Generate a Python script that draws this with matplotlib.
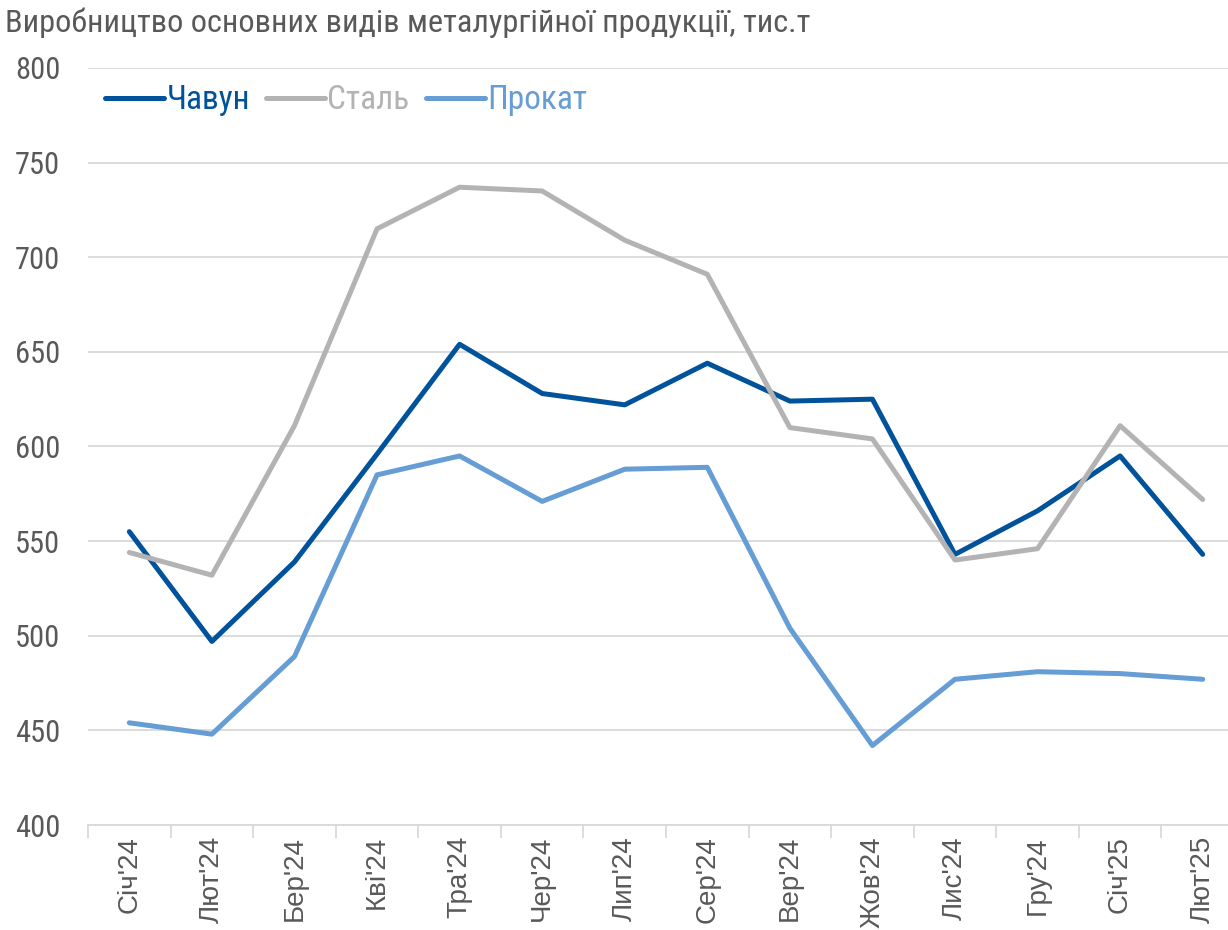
import matplotlib.pyplot as plt
import numpy as np

# Production of main metallurgical products, thousand tonnes
months = ["Січ'24", "Лют'24", "Бер'24", "Кві'24", "Тра'24", "Чер'24", "Лип'24",
          "Сер'24", "Вер'24", "Жов'24", "Лис'24", "Гру'24", "Січ'25", "Лют'25"]
chavun = [555, 497, 539, 596, 654, 628, 622, 644, 624, 625, 543, 566, 595, 543]
stal = [544, 532, 611, 715, 737, 735, 709, 691, 610, 604, 540, 546, 611, 572]
prokat = [454, 448, 489, 585, 595, 571, 588, 589, 504, 442, 477, 481, 480, 477]

narrow = ['Liberation Sans Narrow', 'DejaVu Sans Condensed', 'Roboto Condensed', 'Liberation Sans']
plt.rcParams['font.family'] = ['Liberation Sans', 'DejaVu Sans']

c_chavun = '#00529B'
c_stal = '#B3B3B3'
c_prokat = '#659DD4'
txt = '#595959'

fig = plt.figure(figsize=(12.28, 9.30), dpi=100)
ax = fig.add_axes([0.0717, 0.1129, 0.9413, 0.814])

x = np.arange(len(months))
ax.plot(x, chavun, color=c_chavun, lw=3.6, label='Чавун', solid_capstyle='round')
ax.plot(x, stal, color=c_stal, lw=3.6, label='Сталь', solid_capstyle='round')
ax.plot(x, prokat, color=c_prokat, lw=3.6, label='Прокат', solid_capstyle='round')

ax.set_xlim(-0.5, len(months) - 0.5)
ax.set_ylim(400, 800)
ax.set_yticks(np.arange(400, 801, 50))
ax.grid(axis='y', color='#D9D9D9', lw=1.3)
ax.set_axisbelow(True)
for s in ['top', 'right', 'left']:
    ax.spines[s].set_visible(False)
ax.spines['bottom'].set_color('#D9D9D9')
ax.spines['bottom'].set_linewidth(1.3)

ax.set_xticks(x)
ax.set_xticklabels(months, rotation=90, fontsize=20, color=txt)
ax.tick_params(axis='x', which='major', length=0, pad=8)
ax.set_xticks(np.arange(-0.5, len(months), 1), minor=True)
ax.tick_params(axis='x', which='minor', length=9, width=1.3, color='#D9D9D9')
ax.tick_params(axis='y', length=0, pad=20, labelcolor=txt)
for lab in ax.get_yticklabels():
    lab.set_family(narrow)
    lab.set_fontsize(22)

fig.text(0.004, 0.975, 'Виробництво основних видів металургійної продукції, тис.т',
         family=narrow, fontsize=23.3, color=txt, va='center', ha='left')

leg = ax.legend(loc='upper left', bbox_to_anchor=(-0.011, 1.018), ncol=3, frameon=False,
                handlelength=1.75, handletextpad=0.08, columnspacing=0.5,
                prop={'family': narrow, 'size': 24})
for t, c in zip(leg.get_texts(), [c_chavun, c_stal, c_prokat]):
    t.set_color(c)

fig.savefig('out.png', dpi=100)
